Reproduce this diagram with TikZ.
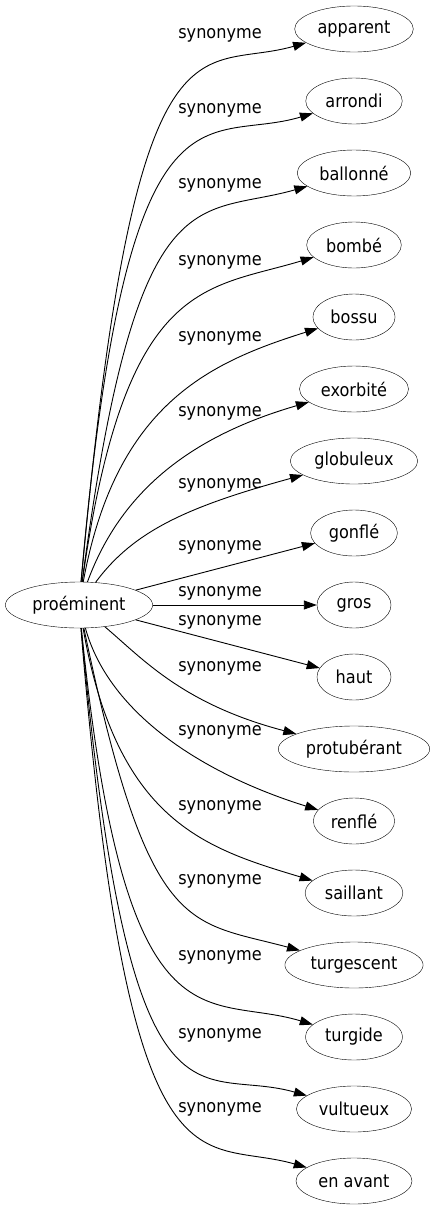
\documentclass[tikz,border=0pt]{standalone}
\usepackage{fontspec}
\setmainfont[FakeStretch=0.9]{DejaVu Sans}
\usetikzlibrary{math,shapes.geometric,arrows.meta}

\begin{document}
\begin{tikzpicture}[x=1pt, y=-1pt, draw=black, font=\fontsize{17.9}{20}\selectfont]
\tikzstyle{word}=[ellipse, draw=black, inner xsep=5.5pt, inner ysep=3pt, minimum width=74pt, minimum height=46pt]
\tikzstyle{head word}=[word]
\tikzstyle{syn label}=[inner sep=0pt]
\tikzstyle{syn line}=[-{Triangle[length=13pt, width=9pt]}, line width=0.9pt]

\useasboundingbox (0,0) rectangle (434,1211);

% Draw the headword
\node[head word] (root) at (79,605) {proéminent};

% Draw the synonyms, one row every 72pt
\foreach \name/\word [count=\i] in {apparent/apparent, arrondi/arrondi, ballonne/ballonné, bombe/bombé,
        bossu/bossu, exorbite/exorbité, globuleux/globuleux, gonfle/gonflé, gros/gros, haut/haut,
        protuberant/protubérant, renfle/renflé, saillant/saillant, turgescent/turgescent,
        turgide/turgide, vultueux/vultueux, enavant/{en avant}} {
    \tikzmath{
        real \ty;
        \ty = 29 + 72 * (\i - 1);
    }
    \node[word] (\name) at (354, \ty) {\word};
};

% Draw the edge labels
\foreach \name/\ly in {apparent/35, arrondi/110, ballonne/185, bombe/262, bossu/338, exorbite/413,
        globuleux/485, gonfle/547, gros/593, haut/622, protuberant/668, renfle/732, saillant/807,
        turgescent/881, turgide/957, vultueux/1035, enavant/1109}
    \node[syn label] (l-\name) at (220, \ly) {synonyme};

% Curved edges
\foreach \name/\ax/\ay/\bx/\by in {apparent/135/-10/197/74, arrondi/127/59/204/146,
        ballonne/137/168/196/218, bombe/125/277/205/290, bossu/116/403/211/362,
        exorbite/123/485/199/434, globuleux/134/530/190/506,
        protuberant/142/658/182/704, renfle/110/717/209/776, saillant/117/821/204/848,
        turgescent/149/938/187/920, turgide/125/1061/205/992, vultueux/130/1159/196/1064,
        enavant/129/1215/197/1136}
    \draw[syn line] (root) .. controls (\ax, \ay) and (\bx, \by) .. (\name);

% Straight edges
\foreach \name in {gonfle, gros, haut}
    \draw[syn line] (root) -- (\name);

\end{tikzpicture}
\end{document}
